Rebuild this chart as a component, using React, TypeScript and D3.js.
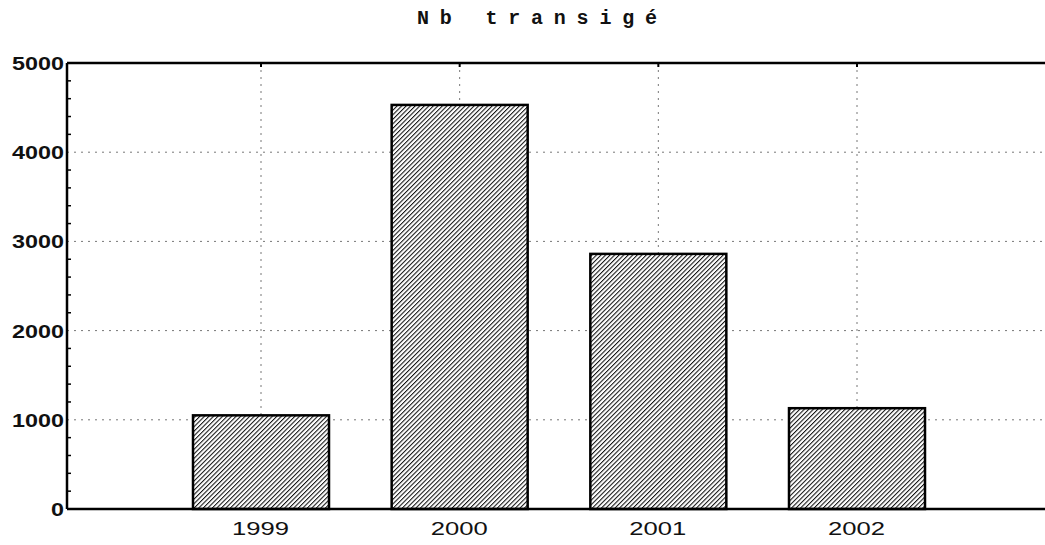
import React from "react";
import * as d3 from "d3";

const years = ["1999", "2000", "2001", "2002"];
const values = [1050, 4530, 2860, 1130];
const yTicks = [0, 1000, 2000, 3000, 4000, 5000];

const W = 1045;
const H = 545;

export default function App() {
  const x = d3.scalePoint<string>().domain(years).range([261, 857]);
  const y = d3.scaleLinear().domain([0, 5000]).range([509, 63]);
  const left = 67;
  const barW = 136;
  const minor = d3.range(0, 5001, 200).filter((v) => v % 1000 !== 0);

  return (
    <svg width={W} height={H} style={{ position: "absolute", left: 0, top: 0, background: "#fff" }}>
      <defs>
        <pattern id="hatch" width="3.2" height="3.2" patternUnits="userSpaceOnUse" patternTransform="rotate(45)">
          <rect width="3.2" height="3.2" fill="#fff" />
          <line x1="0" y1="0" x2="0" y2="3.2" stroke="#111" strokeWidth="2.1" />
        </pattern>
      </defs>

      <text x={417} y={24} fontFamily="Liberation Mono, monospace" fontWeight="bold" fontSize={20} fill="#111"
        textLength={240} lengthAdjust="spacing">
        Nb transigé
      </text>

      {/* horizontal grid */}
      {yTicks.filter((t) => t > 0 && t < 5000).map((t) => (
        <line key={t} x1={left} x2={W} y1={y(t)} y2={y(t)} stroke="#777" strokeWidth={1} strokeDasharray="2,5" />
      ))}
      {/* vertical grid */}
      {years.map((yr) => (
        <line key={yr} x1={x(yr)} x2={x(yr)} y1={y(5000)} y2={y(0)} stroke="#777" strokeWidth={1} strokeDasharray="2,5" />
      ))}

      {years.map((yr, i) => (
        <rect
          key={yr}
          x={(x(yr) as number) - barW / 2}
          y={y(values[i])}
          width={barW}
          height={y(0) - y(values[i])}
          fill="url(#hatch)"
          stroke="#000"
          strokeWidth={2.5}
        />
      ))}

      {/* axes */}
      <line x1={left} x2={W} y1={y(5000)} y2={y(5000)} stroke="#000" strokeWidth={2.5} />
      <line x1={left} x2={W} y1={y(0)} y2={y(0)} stroke="#000" strokeWidth={2.5} />
      <line x1={left} x2={left} y1={y(5000)} y2={y(0)} stroke="#000" strokeWidth={2.5} />
      {minor.map((v) => (
        <line key={v} x1={left} x2={left + 4} y1={y(v)} y2={y(v)} stroke="#000" strokeWidth={1.5} />
      ))}
      {years.map((yr) => (
        <line key={yr} x1={x(yr)} x2={x(yr)} y1={y(5000)} y2={y(5000) + 4} stroke="#000" strokeWidth={2} />
      ))}

      {yTicks.map((t) => {
        const s = String(t);
        const len = s.length * 13;
        return (
          <text key={t} x={64 - len} y={y(t) + 7} fontFamily="Liberation Sans, Arial, sans-serif" fontWeight="bold" fontSize={19} fill="#111"
            textLength={len} lengthAdjust="spacingAndGlyphs">
            {s}
          </text>
        );
      })}
      {years.map((yr) => (
        <text key={yr} x={(x(yr) as number) - 29} y={535} fontFamily="Liberation Sans, Arial, sans-serif" fontSize={18} fill="#111"
          textLength={57} lengthAdjust="spacingAndGlyphs">
          {yr}
        </text>
      ))}
    </svg>
  );
}
